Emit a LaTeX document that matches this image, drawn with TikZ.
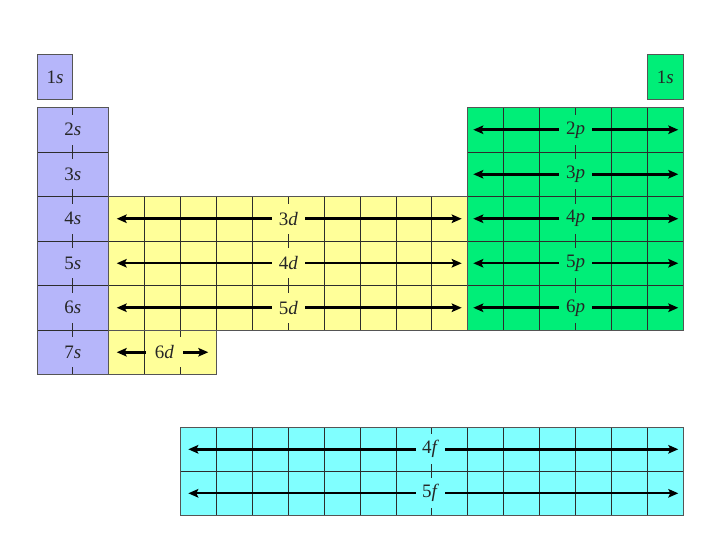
\documentclass[tikz,border=0pt]{standalone}
\usepackage{fontspec}
\setmainfont{Liberation Serif}
\usetikzlibrary{arrows.meta}
\definecolor{sblk}{RGB}{182,182,250}
\definecolor{dblk}{RGB}{255,255,153}
\definecolor{pblk}{RGB}{0,238,120}
\definecolor{fblk}{RGB}{128,255,255}
\definecolor{gridc}{RGB}{45,45,45}
\definecolor{edgec}{RGB}{85,85,85}
\begin{document}
\begin{tikzpicture}[x=1pt,y=-1pt,
  gridline/.style={draw=gridc,line width=0.9pt},
  blockedge/.style={draw=edgec,line width=1pt},
  lbl/.style={font=\fontsize{19}{19}\selectfont, inner xsep=7pt, inner ysep=0pt, minimum height=30pt, text=black!85},
  tipstyle/.style={-{Stealth[length=10pt,width=8.5pt,inset=2pt]}},
  arrA/.style={tipstyle,line width=3.4pt},
  arrB/.style={tipstyle,line width=3pt},
  arrC/.style={tipstyle,line width=2.2pt}]
\useasboundingbox (0,0) rectangle (720,540);
\fill[white] (0,0) rectangle (720,540);

% ---------- fills ----------
\fill[sblk] (37,55) rectangle (72.9,99.5);
\fill[sblk] (37,107.5) rectangle (108.8,374.5);
\fill[dblk] (108.8,196.5) rectangle (467.8,330);
\fill[dblk] (108.8,330) rectangle (216.5,374.5);
\fill[pblk] (467.8,107.5) rectangle (683.2,330);
\fill[pblk] (647.3,55) rectangle (683.2,99.5);
\fill[fblk] (180.6,427.3) rectangle (683.2,515.3);

% ---------- grid lines ----------
% s block
\foreach \y in {152,196.5,241,285.5,330} \draw[gridline] (37,\y) -- (108.8,\y);
\draw[gridline] (72.9,107.5) -- (72.9,374.5);
% d block
\foreach \k in {1,...,9} \draw[gridline] (108.8+\k*35.9,196.5) -- (108.8+\k*35.9,330);
\foreach \y in {241,285.5} \draw[gridline] (108.8,\y) -- (467.8,\y);
\foreach \k in {1,2} \draw[gridline] (108.8+\k*35.9,330) -- (108.8+\k*35.9,374.5);
% p block
\foreach \k in {1,...,5} \draw[gridline] (467.8+\k*35.9,107.5) -- (467.8+\k*35.9,330);
\foreach \y in {152,196.5,241,285.5} \draw[gridline] (467.8,\y) -- (683.2,\y);
% f block
\foreach \k in {1,...,13} \draw[gridline] (180.6+\k*35.9,427.3) -- (180.6+\k*35.9,515.3);
\draw[gridline] (180.6,471.3) -- (683.2,471.3);

% ---------- block outlines ----------
\draw[blockedge] (37,55) rectangle (72.9,99.5);
\draw[blockedge] (37,107.5) rectangle (108.8,374.5);
\draw[blockedge] (108.8,196.5) rectangle (467.8,330);
\draw[blockedge] (108.8,330) rectangle (216.5,374.5);
\draw[blockedge] (467.8,107.5) rectangle (683.2,330);
\draw[blockedge] (647.3,55) rectangle (683.2,99.5);
\draw[blockedge] (180.6,427.3) rectangle (683.2,515.3);

% ---------- s labels ----------
\node[lbl] (s1a) at (54.95,77.25) {1\textit{s}};
\node[lbl] (s1b) at (665.25,77.25) {1\textit{s}};
\node[lbl,fill=sblk] (s2) at (72.9,129.75) {2\textit{s}};
\node[lbl,fill=sblk] (s3) at (72.9,174.25) {3\textit{s}};
\node[lbl,fill=sblk] (s4) at (72.9,218.75) {4\textit{s}};
\node[lbl,fill=sblk] (s5) at (72.9,263.25) {5\textit{s}};
\node[lbl,fill=sblk] (s6) at (72.9,307.75) {6\textit{s}};
\node[lbl,fill=sblk] (s7) at (72.9,352.25) {7\textit{s}};

% ---------- d labels and arrows ----------
\node[lbl,fill=dblk] (d3) at (288.3,218.75) {3\textit{d}};
\node[lbl,fill=dblk] (d4) at (288.3,263.25) {4\textit{d}};
\node[lbl,fill=dblk] (d5) at (288.3,307.75) {5\textit{d}};
\node[lbl,fill=dblk,inner xsep=9pt] (d6) at (164.5,352.25) {6\textit{d}};
\coordinate (d3L) at (116.7,218.75); \coordinate (d3R) at (461.7,218.75);
\coordinate (d4L) at (116.7,263.25); \coordinate (d4R) at (461.7,263.25);
\coordinate (d5L) at (116.7,307.75); \coordinate (d5R) at (461.7,307.75);
\coordinate (d6L) at (116.7,352.25); \coordinate (d6R) at (208.3,352.25);
\draw[arrA] (d3.west) -- (d3L); \draw[arrA] (d3.east) -- (d3R);
\draw[arrC] (d4.west) -- (d4L); \draw[arrC] (d4.east) -- (d4R);
\draw[arrB] (d5.west) -- (d5L); \draw[arrB] (d5.east) -- (d5R);
\draw[arrA] (d6.west) -- (d6L); \draw[arrA] (d6.east) -- (d6R);

% ---------- p labels and arrows ----------
\node[lbl,fill=pblk] (p2) at (575.5,129.75) {2\textit{p}};
\node[lbl,fill=pblk] (p3) at (575.5,174.25) {3\textit{p}};
\node[lbl,fill=pblk] (p4) at (575.5,218.75) {4\textit{p}};
\node[lbl,fill=pblk] (p5) at (575.5,263.25) {5\textit{p}};
\node[lbl,fill=pblk] (p6) at (575.5,307.75) {6\textit{p}};
\coordinate (p2L) at (473.3,129.75); \coordinate (p2R) at (678.3,129.75);
\coordinate (p3L) at (473.3,174.25); \coordinate (p3R) at (678.3,174.25);
\coordinate (p4L) at (473.3,218.75); \coordinate (p4R) at (678.3,218.75);
\coordinate (p5L) at (473.3,263.25); \coordinate (p5R) at (678.3,263.25);
\coordinate (p6L) at (473.3,307.75); \coordinate (p6R) at (678.3,307.75);
\draw[arrA] (p2.west) -- (p2L); \draw[arrA] (p2.east) -- (p2R);
\draw[arrA] (p3.west) -- (p3L); \draw[arrA] (p3.east) -- (p3R);
\draw[arrA] (p4.west) -- (p4L); \draw[arrA] (p4.east) -- (p4R);
\draw[arrC] (p5.west) -- (p5L); \draw[arrC] (p5.east) -- (p5R);
\draw[arrB] (p6.west) -- (p6L); \draw[arrB] (p6.east) -- (p6R);

% ---------- f labels and arrows ----------
\node[lbl,fill=fblk,inner xsep=6pt] (f4) at (430.5,449.3) {4\textit{f}};
\node[lbl,fill=fblk,inner xsep=6pt] (f5) at (430.5,493.3) {5\textit{f}};
\coordinate (f4L) at (188.3,449.3); \coordinate (f4R) at (678.3,449.3);
\coordinate (f5L) at (188.3,493.3); \coordinate (f5R) at (678.3,493.3);
\draw[arrA] (f4.west) -- (f4L); \draw[arrA] (f4.east) -- (f4R);
\draw[arrC] (f5.west) -- (f5L); \draw[arrC] (f5.east) -- (f5R);
\end{tikzpicture}
\end{document}
